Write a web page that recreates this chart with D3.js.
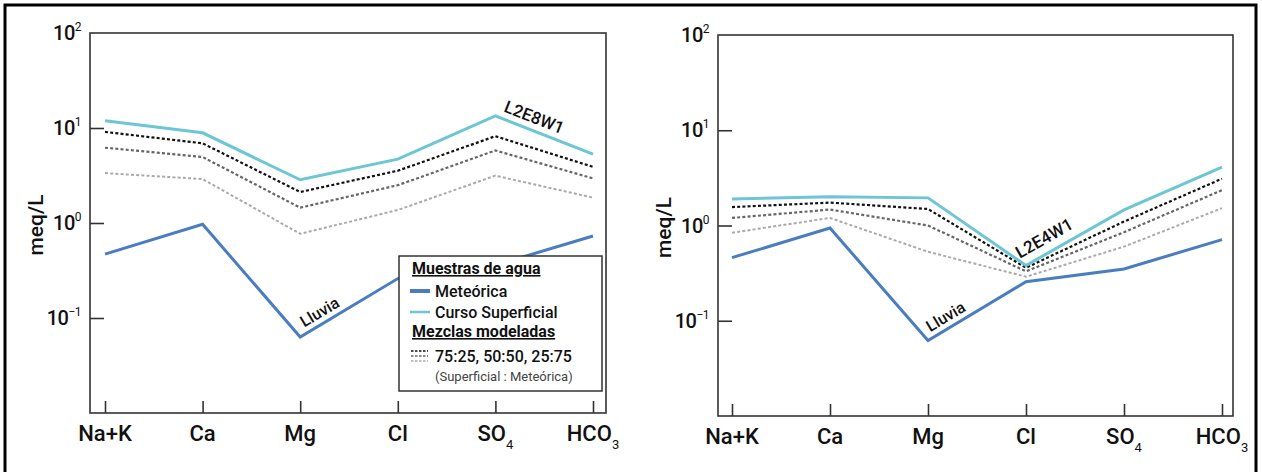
<!DOCTYPE html>
<html>
<head>
<meta charset="utf-8">
<script src="https://cdn.jsdelivr.net/npm/d3@7"></script>
<style>
  html, body { margin: 0; padding: 0; background: #fff; }
  svg { display: block; font-family: Roboto, "Noto Sans", sans-serif; }
</style>
</head>
<body>
<svg id="chart" width="1262" height="472"></svg>
<script>
// Ions on the x axis (main text + subscript)
const categories = ["Na+K", "Ca", "Mg", "Cl", "SO4", "HCO3"];
const categoryMain = ["Na+K", "Ca", "Mg", "Cl", "SO", "HCO"];
const categorySub = ["", "", "", "", "4", "3"];

// Decade exponents labelled on the log axis
const tickExponents = [2, 1, 0, -1];

// Panel 1 (L2E8W1), meq/L
const leftSuperficial = [11.9, 8.9, 2.85, 4.7, 13.4, 5.3];
const leftMix7525 = [9.1, 6.9, 2.12, 3.55, 8.2, 3.9];
const leftMix5050 = [6.2, 4.95, 1.45, 2.5, 5.8, 2.95];
const leftMix2575 = [3.35, 2.9, 0.77, 1.37, 3.15, 1.85];
const leftMeteorica = [0.47, 0.97, 0.063, 0.26, 0.36, 0.73];

// Panel 2 (L2E4W1), meq/L
const rightSuperficial = [1.9, 2.0, 1.95, 0.38, 1.46, 4.1];
const rightMix7525 = [1.56, 1.74, 1.49, 0.36, 1.1, 3.1];
const rightMix5050 = [1.2, 1.47, 1.0, 0.33, 0.85, 2.35];
const rightMix2575 = [0.84, 1.2, 0.53, 0.29, 0.6, 1.52];
const rightMeteorica = [0.46, 0.94, 0.062, 0.257, 0.35, 0.71];

const COLORS = {
  superficial: "#6cc6d3",
  meteorica: "#4a7dc0",
  mix7525: "#111111",
  mix5050: "#666666",
  mix2575: "#aaaaaa",
  frame: "#333333"
};

const svg = d3.select("#chart");

// Outer border
svg.append("rect")
  .attr("x", 5).attr("y", 5)
  .attr("width", 1251).attr("height", 490)
  .attr("fill", "none").attr("stroke", "#000").attr("stroke-width", 3);

function labelOnSegment(g, p0, p1, t, offset, text, size) {
  const x = p0[0] + (p1[0] - p0[0]) * t;
  const y = p0[1] + (p1[1] - p0[1]) * t;
  const ang = Math.atan2(p1[1] - p0[1], p1[0] - p0[0]) * 180 / Math.PI;
  g.append("text")
    .attr("transform", `translate(${x},${y}) rotate(${ang})`)
    .attr("y", -offset)
    .attr("text-anchor", "middle")
    .attr("font-size", size)
    .attr("font-weight", 500)
    .attr("fill", "#111")
    .text(text);
}

function drawPanel(cfg) {
  const { x0, x1, y0, y1, padL, padR, series, ylabelX } = cfg;
  const g = svg.append("g");

  const x = d3.scalePoint().domain(categories).range([x0 + padL, x1 - padR]);
  const y = d3.scaleLog().domain([0.01, 100]).range([y1, y0]);

  // Frame
  g.append("rect")
    .attr("x", x0).attr("y", y0)
    .attr("width", x1 - x0).attr("height", y1 - y0)
    .attr("fill", "none").attr("stroke", COLORS.frame).attr("stroke-width", 1.6);

  // Y axis: inward ticks, labels drawn as 10^n
  const yAxis = d3.axisLeft(y)
    .tickValues(tickExponents.filter(e => e < 2).map(e => Math.pow(10, e)))
    .tickSize(-14).tickFormat("");
  const ya = g.append("g").attr("transform", `translate(${x0},0)`).call(yAxis);
  ya.select(".domain").remove();
  ya.selectAll(".tick line").attr("stroke", COLORS.frame).attr("stroke-width", 1.6);

  tickExponents.forEach(e => {
    const t = g.append("text")
      .attr("x", x0 - 9)
      .attr("y", y(Math.pow(10, e)) + 7)
      .attr("text-anchor", "end")
      .attr("font-size", 20)
      .attr("font-weight", 500)
      .attr("letter-spacing", -0.5)
      .attr("fill", "#111");
    t.append("tspan").text("10");
    t.append("tspan").attr("dy", -9).attr("font-size", 12).attr("font-weight", 400)
      .text(e < 0 ? "\u2212" + Math.abs(e) : String(e));
  });

  // X axis: inward ticks
  const xAxis = d3.axisBottom(x).tickSize(-12).tickFormat("");
  const xa = g.append("g").attr("transform", `translate(0,${y1})`).call(xAxis);
  xa.select(".domain").remove();
  xa.selectAll(".tick line").attr("stroke", COLORS.frame).attr("stroke-width", 1.6);

  categories.forEach((c, i) => {
    const t = g.append("text")
      .attr("x", x(c))
      .attr("y", y1 + 28)
      .attr("text-anchor", "middle")
      .attr("font-size", 22)
      .attr("font-weight", 500)
      .attr("fill", "#111");
    t.append("tspan").text(categoryMain[i]);
    if (categorySub[i]) {
      t.append("tspan").attr("dy", 8).attr("font-size", 13).attr("font-weight", 400).text(categorySub[i]);
    }
  });

  // Y label
  g.append("text")
    .attr("transform", `translate(${ylabelX},${(y0 + y1) / 2 + 2}) rotate(-90)`)
    .attr("text-anchor", "middle")
    .attr("font-size", 21)
    .attr("font-weight", 500)
    .attr("fill", "#111")
    .text("meq/L");

  const line = d3.line()
    .x((d, i) => x(categories[i]))
    .y(d => y(d));

  const styles = [
    { data: series.mix2575, color: COLORS.mix2575, w: 2, dash: "3,2.2" },
    { data: series.mix5050, color: COLORS.mix5050, w: 2.2, dash: "3,2.2" },
    { data: series.mix7525, color: COLORS.mix7525, w: 2.2, dash: "3,2.2" },
    { data: series.meteorica, color: COLORS.meteorica, w: 3, dash: null },
    { data: series.superficial, color: COLORS.superficial, w: 3, dash: null }
  ];
  styles.forEach(s => {
    g.append("path")
      .datum(s.data)
      .attr("d", line)
      .attr("fill", "none")
      .attr("stroke", s.color)
      .attr("stroke-width", s.w)
      .attr("stroke-linejoin", "miter")
      .attr("stroke-dasharray", s.dash);
  });

  const pt = (arr, i) => [x(categories[i]), y(arr[i])];
  return { g, x, y, pt };
}

// Panel 1
const p1 = drawPanel({
  x0: 90, x1: 606, y0: 33, y1: 413, padL: 15, padR: 13, ylabelX: 43,
  series: {
    superficial: leftSuperficial, mix7525: leftMix7525, mix5050: leftMix5050,
    mix2575: leftMix2575, meteorica: leftMeteorica
  }
});
labelOnSegment(p1.g, p1.pt(leftSuperficial, 4), p1.pt(leftSuperficial, 5), 0.35, 7, "L2E8W1", 17);
labelOnSegment(p1.g, p1.pt(leftMeteorica, 2), p1.pt(leftMeteorica, 3), 0.26, 6, "Lluvia", 16);

// Panel 2
const p2 = drawPanel({
  x0: 718, x1: 1233, y0: 35, y1: 416, padL: 14, padR: 11, ylabelX: 671,
  series: {
    superficial: rightSuperficial, mix7525: rightMix7525, mix5050: rightMix5050,
    mix2575: rightMix2575, meteorica: rightMeteorica
  }
});
labelOnSegment(p2.g, p2.pt(rightSuperficial, 3), p2.pt(rightSuperficial, 4), 0.26, 9, "L2E4W1", 17);
labelOnSegment(p2.g, p2.pt(rightMeteorica, 2), p2.pt(rightMeteorica, 3), 0.24, 6, "Lluvia", 16);

// Legend (panel 1)
const lg = p1.g.append("g");
lg.append("rect")
  .attr("x", 399).attr("y", 256).attr("width", 203).attr("height", 135)
  .attr("fill", "#fff").attr("stroke", COLORS.frame).attr("stroke-width", 1.5);

const legendTitles = [
  { text: "Muestras de agua", y: 274 },
  { text: "Mezclas modeladas", y: 337 }
];
legendTitles.forEach(d => {
  lg.append("text")
    .attr("x", 412).attr("y", d.y)
    .attr("font-size", 16).attr("font-weight", "bold")
    .attr("text-decoration", "underline")
    .attr("fill", "#111")
    .text(d.text);
});

const legendLines = [
  { text: "Meteórica", color: COLORS.meteorica, w: 4, y: 291 },
  { text: "Curso Superficial", color: COLORS.superficial, w: 2.5, y: 312 }
];
legendLines.forEach(d => {
  lg.append("line")
    .attr("x1", 410).attr("x2", 430).attr("y1", d.y).attr("y2", d.y)
    .attr("stroke", d.color).attr("stroke-width", d.w);
  lg.append("text")
    .attr("x", 435).attr("y", d.y + 6)
    .attr("font-size", 16).attr("font-weight", 500).attr("fill", "#111")
    .text(d.text);
});

[COLORS.mix7525, COLORS.mix5050, COLORS.mix2575].forEach((c, i) => {
  lg.append("line")
    .attr("x1", 411).attr("x2", 428)
    .attr("y1", 351 + i * 5).attr("y2", 351 + i * 5)
    .attr("stroke", c).attr("stroke-width", 1.3).attr("stroke-dasharray", "2.5,1.5");
});
lg.append("text")
  .attr("x", 435).attr("y", 362)
  .attr("font-size", 16).attr("font-weight", 500).attr("fill", "#111")
  .text("75:25, 50:50, 25:75");
lg.append("text")
  .attr("x", 435).attr("y", 381)
  .attr("font-size", 13).attr("fill", "#444")
  .text("(Superficial : Meteórica)");
</script>
</body>
</html>
